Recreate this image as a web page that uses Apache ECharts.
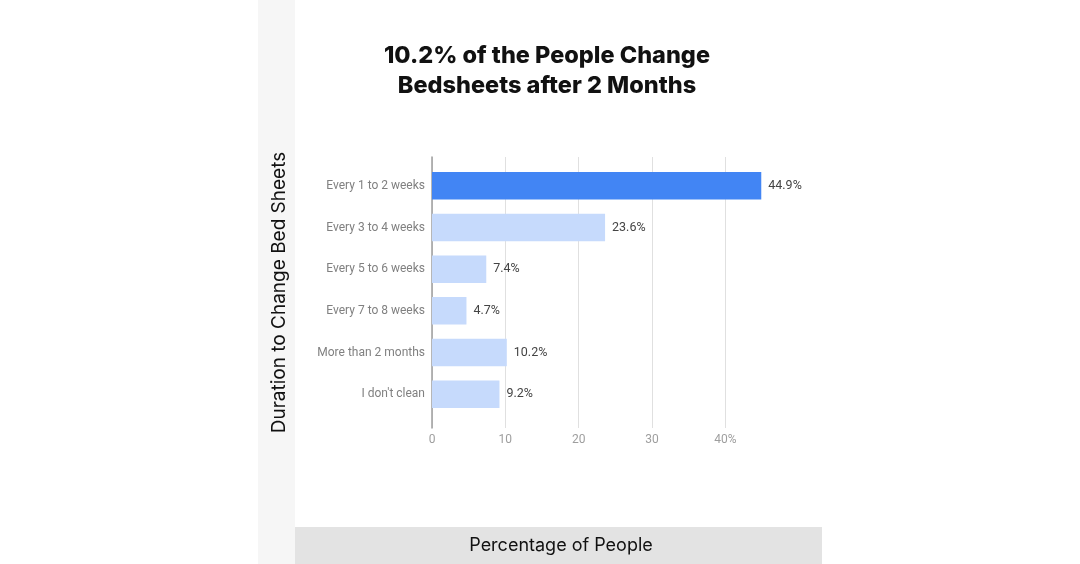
<!DOCTYPE html>
<html>
<head>
<meta charset="utf-8">
<script src="https://cdn.jsdelivr.net/npm/echarts@6/dist/echarts.min.js"></script>
<style>
  html, body { margin: 0; padding: 0; background: #fff; }
  #chart { width: 1080px; height: 564px; }
</style>
</head>
<body>
<div id="chart"></div>
<script>
// 换床单频率
var categories = ['Every 1 to 2 weeks', 'Every 3 to 4 weeks', 'Every 5 to 6 weeks',
    'Every 7 to 8 weeks', 'More than 2 months', "I don't clean"];
var values = [44.9, 23.6, 7.4, 4.7, 10.2, 9.2];
var barColors = ['#4285f4', '#c6dafc', '#c6dafc', '#c6dafc', '#c6dafc', '#c6dafc'];
var xTicks = [0, 10, 20, 30, 40];

var chart = echarts.init(document.getElementById('chart'));

var option = {
    backgroundColor: '#ffffff',
    animation: false,
    title: {
        text: '10.2% of the People Change\nBedsheets after 2 Months',
        left: 542,
        top: 36,
        textAlign: 'center',
        textStyle: {
            fontFamily: 'Inter',
            fontWeight: 800,
            fontSize: 23.5,
            lineHeight: 30,
            color: '#111'
        }
    },
    graphic: [
        { type: 'rect', shape: { x: 258, y: 0, width: 37, height: 564 }, style: { fill: '#f6f6f6' }, z: -10 },
        { type: 'rect', shape: { x: 295, y: 527, width: 527, height: 37 }, style: { fill: '#e3e3e3' }, z: -10 },
        {
            type: 'text',
            style: { text: 'Percentage of People', x: 561, y: 546, textAlign: 'center', textVerticalAlign: 'middle', font: '18px Inter', fill: '#111' }
        }
    ],
    grid: [
        // lines grid
        { left: 432, right: 318, top: 157, bottom: 136 },
        // bars grid
        { left: 432, right: 318, top: 165, bottom: 149 }
    ],
    xAxis: [
        {
            gridIndex: 0,
            type: 'value',
            min: 0,
            max: 45,
            interval: 10,
            axisLine: { show: false },
            axisTick: { show: false },
            splitLine: { show: true, showMaxLine: false, lineStyle: { color: '#e0e0e0', width: 1 } },
            axisLabel: {
                showMaxLabel: false,
                margin: 6,
                color: '#9e9e9e',
                fontFamily: 'Roboto',
                fontSize: 12,
                formatter: function (v) {
                    return v === xTicks[xTicks.length - 1] ? v + '%' : String(v);
                }
            }
        },
        {
            gridIndex: 1,
            type: 'value',
            min: 0,
            max: 45,
            show: false
        }
    ],
    yAxis: [
        {
            gridIndex: 0,
            type: 'value',
            min: 0,
            max: 1,
            name: 'Duration to Change Bed Sheets',
            nameLocation: 'middle',
            nameGap: 143,
            nameTextStyle: { fontFamily: 'Inter', fontSize: 19, color: '#111' },
            axisLine: { show: true, lineStyle: { color: '#9e9e9e', width: 1.5 } },
            axisTick: { show: false },
            axisLabel: { show: false },
            splitLine: { show: false }
        },
        {
            gridIndex: 1,
            type: 'category',
            inverse: true,
            data: categories,
            axisLine: { show: false },
            axisTick: { show: false },
            axisLabel: {
                margin: 7,
                color: '#808080',
                fontFamily: 'Roboto',
                fontSize: 12
            }
        }
    ],
    series: [
        {
            type: 'bar',
            xAxisIndex: 1,
            yAxisIndex: 1,
            barCategoryGap: '34%',
            data: values.map(function (v, i) {
                return { value: v, itemStyle: { color: barColors[i] } };
            }),
            label: {
                show: true,
                position: 'right',
                distance: 7,
                color: '#444',
                fontFamily: 'Roboto',
                fontSize: 12.5,
                formatter: function (p) { return p.value.toFixed(1) + '%'; }
            }
        }
    ]
};

chart.setOption(option);
</script>
</body>
</html>
